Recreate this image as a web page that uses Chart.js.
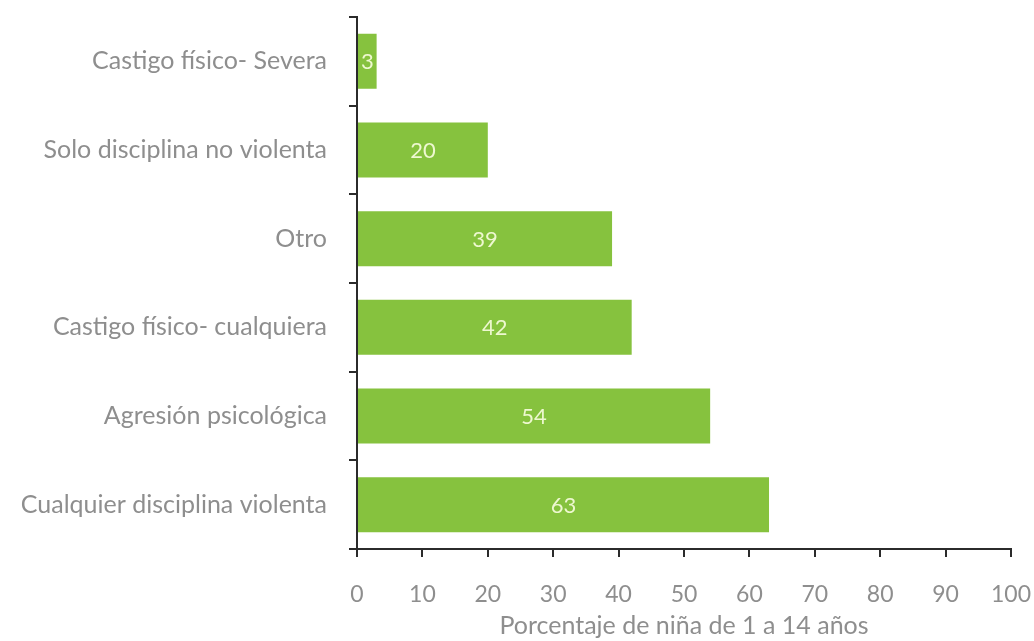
<!DOCTYPE html>
<html>
<head>
<meta charset="utf-8">
<script src="https://cdn.jsdelivr.net/npm/chart.js@4.4.1/dist/chart.umd.min.js"></script>
<style>
  html, body { margin: 0; padding: 0; background: #fff; }
  #wrap { width: 1034px; height: 641px; }
</style>
</head>
<body>
<div id="wrap"><canvas id="c"></canvas></div>
<script>
// ── DATA ────────────────────────────────────────────────────
const categories = [
  'Castigo físico- Severa',
  'Solo disciplina no violenta',
  'Otro',
  'Castigo físico- cualquiera',
  'Agresión psicológica',
  'Cualquier disciplina violenta'
];
const values = [3, 20, 39, 42, 54, 63];
const xTicks = [0, 10, 20, 30, 40, 50, 60, 70, 80, 90, 100];
const xTitle = 'Porcentaje de niña de 1 a 14 años';

// ── STYLE ───────────────────────────────────────────────────
const FONT = 'Lato, "Open Sans", sans-serif';
const GREY = '#8e8e8e';
const AXIS = '#2b2b2b';
const BAR = '#86c23e';

// value written in the middle of each bar
const barValues = {
  id: 'barValues',
  afterDatasetsDraw(chart) {
    const ctx = chart.ctx;
    const meta = chart.getDatasetMeta(0);
    ctx.save();
    ctx.font = '22px ' + FONT;
    ctx.fillStyle = '#eef8d0';
    ctx.textAlign = 'center';
    ctx.textBaseline = 'middle';
    meta.data.forEach((bar, i) => {
      const mid = (bar.x + bar.base) / 2;
      ctx.fillText(String(values[i]), mid, bar.y + 1);
    });
    ctx.restore();
  }
};

// keep label overhang from shrinking the plot area
function noOverhang(s) {
  s.paddingTop = 0; s.paddingBottom = 0;
  s.paddingLeft = 0; s.paddingRight = 0;
}

new Chart(document.getElementById('c'), {
  type: 'bar',
  data: {
    labels: categories,
    datasets: [{
      data: values,
      backgroundColor: BAR,
      borderWidth: 0,
      barPercentage: 0.62,
      categoryPercentage: 1
    }]
  },
  options: {
    indexAxis: 'y',
    responsive: true,
    maintainAspectRatio: false,
    animation: false,
    layout: { padding: { top: 17, right: 23, bottom: 0, left: 0 } },
    plugins: { legend: { display: false }, tooltip: { enabled: false } },
    scales: {
      x: {
        min: 0, max: 100,
        afterBuildTicks: s => { s.ticks = xTicks.map(v => ({ value: v })); },
        afterFit: s => { s.height = 92; noOverhang(s); },
        border: { display: true, color: AXIS, width: 2 },
        grid: { drawOnChartArea: false, drawTicks: true, tickLength: 8, color: AXIS, lineWidth: 2 },
        ticks: { color: GREY, font: { family: FONT, size: 23 }, padding: 24, maxRotation: 0 },
        title: {
          display: true, text: xTitle, color: GREY,
          font: { family: FONT, size: 25 }, padding: { top: 0, bottom: 0 }
        }
      },
      y: {
        afterFit: s => { s.width = 357; noOverhang(s); },
        border: { display: true, color: AXIS, width: 2 },
        grid: { drawOnChartArea: false, drawTicks: true, tickLength: 8, color: AXIS, lineWidth: 2, offset: true },
        ticks: { color: GREY, font: { family: FONT, size: 25 }, padding: 22 }
      }
    }
  },
  plugins: [barValues]
});
</script>
</body>
</html>
